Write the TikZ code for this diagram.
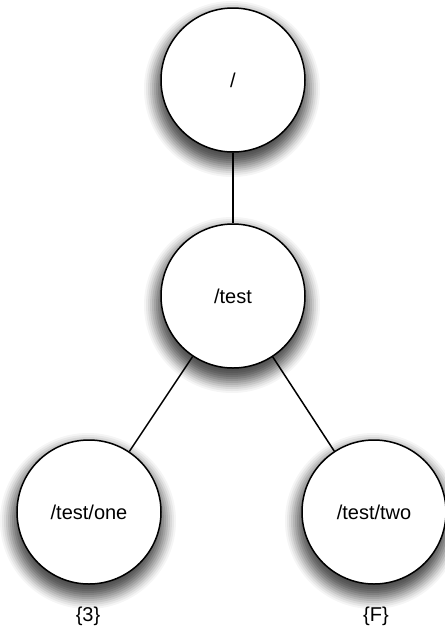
\documentclass[tikz,border=0pt]{standalone}
\usepackage{fontspec}
\setmainfont{Liberation Sans}
% soft drop shadow: nested grey discs around a centre, lighter outward
\newcommand\softshadow[2]{%
  \fill[black!4]  (#1,#2) circle (88pt);
  \fill[black!9]  (#1,#2) circle (86pt);
  \fill[black!15] (#1,#2) circle (84pt);
  \fill[black!22] (#1,#2) circle (82pt);
  \fill[black!29] (#1,#2) circle (80pt);
  \fill[black!36] (#1,#2) circle (78pt);
  \fill[black!43] (#1,#2) circle (76pt);
  \fill[black!50] (#1,#2) circle (74pt);
  \fill[black!56] (#1,#2) circle (72pt);
  \fill[black!61] (#1,#2) circle (70pt);
  \fill[black!65] (#1,#2) circle (68pt);
  \fill[black!68] (#1,#2) circle (66pt);
  \fill[black!70] (#1,#2) circle (64pt);
}
\begin{document}
\begin{tikzpicture}[x=1pt,y=-1pt,
  state/.style={circle, draw=black, line width=1.5pt, fill=white,
    minimum size=144pt, inner sep=0pt, font=\fontsize{20}{24}\selectfont},
  edge/.style={line width=1.5pt},
  val/.style={font=\fontsize{20}{24}\selectfont}]
\useasboundingbox (0,0) rectangle (445,633);
% shadows under the nodes
\softshadow{232}{89}
\softshadow{232}{305}
\softshadow{88}{521}
\softshadow{373}{521}
% tree nodes
\node[state] (root) at (233,80) {/};
\node[state] (test) at (233,296) {/test};
\node[state] (one) at (89,512) {/test/one};
\node[state] (two) at (374,512) {/test/two};
% connectors
\draw[edge] (root) -- (test);
\draw[edge] (test) -- (one);
\draw[edge] (test) -- (two);
% leaf values
\node[val] (v1) at (88,616) {\{3\}};
\node[val] (v2) at (376,616) {\{F\}};
\end{tikzpicture}
\end{document}
